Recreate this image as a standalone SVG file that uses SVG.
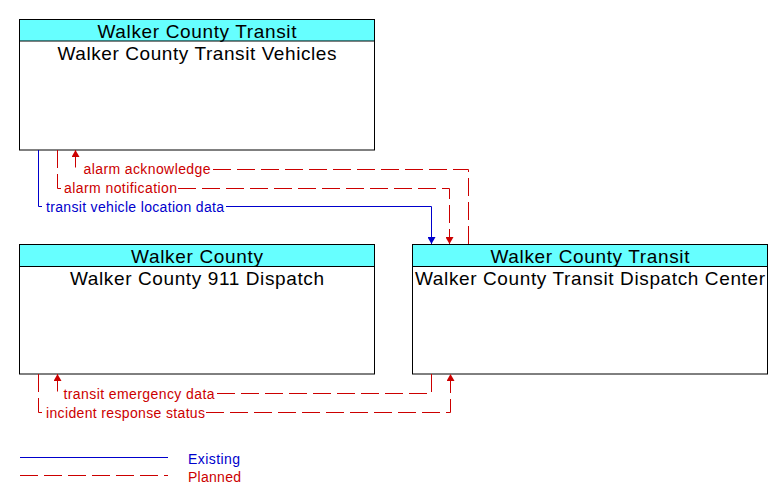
<svg xmlns="http://www.w3.org/2000/svg" width="783" height="504" viewBox="0 0 783 504">
<style>
.box{fill:#ffffff;stroke:#000000;stroke-width:1}
.hdr{fill:#66ffff;stroke:#000000;stroke-width:1}
.nt{font-family:"Liberation Sans",Arial,sans-serif;font-size:19px;fill:#000000;text-anchor:middle}
.lb{font-family:"Liberation Sans",Arial,sans-serif;font-size:14px}
.ex{fill:none;stroke:#0000cc;stroke-width:1}
.pl{fill:none;stroke:#cc0000;stroke-width:1;stroke-dasharray:18,6}
.tb{fill:#0000cc}
.tr{fill:#cc0000}
</style>
<defs>
<marker id="ab" markerUnits="userSpaceOnUse" markerWidth="8" markerHeight="8" refX="7" refY="4" orient="auto"><path d="M0,0 L7,4 L0,8 z" fill="#0000cc"/></marker>
<marker id="ar" markerUnits="userSpaceOnUse" markerWidth="8" markerHeight="8" refX="7" refY="4" orient="auto"><path d="M0,0 L7,4 L0,8 z" fill="#cc0000"/></marker>
</defs>
<rect width="783" height="504" fill="#ffffff"/>
<g id="node-vehicles">
<rect class="box" x="19.5" y="19.5" width="355" height="130.5"/>
<rect class="hdr" x="19.5" y="19.5" width="355" height="21.5"/>
<text class="nt" x="197" y="38" textLength="199">Walker County Transit</text>
<text class="nt" x="197" y="59.5" textLength="279">Walker County Transit Vehicles</text>
</g>
<g id="node-911">
<rect class="box" x="19.5" y="244.5" width="355" height="129.5"/>
<rect class="hdr" x="19.5" y="244.5" width="355" height="22"/>
<text class="nt" x="197" y="263" textLength="132">Walker County</text>
<text class="nt" x="197" y="284.5" textLength="254">Walker County 911 Dispatch</text>
</g>
<g id="node-dispatch">
<rect class="box" x="412.5" y="244.5" width="355" height="129.5"/>
<rect class="hdr" x="412.5" y="244.5" width="355" height="22"/>
<text class="nt" x="590" y="263" textLength="199">Walker County Transit</text>
<text class="nt" x="590" y="284.5" textLength="350">Walker County Transit Dispatch Center</text>
</g>
<g id="connectors">
<path class="ex" d="M38.5,150 V206.5 H42 M226,206.5 H431.5 V244" marker-end="url(#ab)"/>
<text class="lb tb" x="46" y="212" textLength="178">transit vehicle location data</text>
<path class="pl" d="M57.5,150 V188.5 H61 M178,188.5 H449.5 V244" marker-end="url(#ar)"/>
<text class="lb tr" x="64" y="193" textLength="113">alarm notification</text>
<path class="pl" d="M468.5,244 V169.5 H211 M75.5,167.5 V150" marker-end="url(#ar)"/>
<text class="lb tr" x="83.5" y="174" textLength="127">alarm acknowledge</text>
<path class="pl" d="M431.5,374 V393.5 H215 M57.5,391.5 V374" marker-end="url(#ar)"/>
<text class="lb tr" x="63.5" y="398.5" textLength="151">transit emergency data</text>
<path class="pl" d="M38.5,374 V412.5 H42 M206,412.5 H450.5 V374" marker-end="url(#ar)"/>
<text class="lb tr" x="46" y="417.5" textLength="159">incident response status</text>
</g>
<g id="legend">
<path class="ex" d="M20,457.5 H168"/>
<text class="lb tb" x="188" y="463.5" textLength="52">Existing</text>
<path class="pl" d="M20,475.5 H168"/>
<text class="lb tr" x="188" y="481.5" textLength="53">Planned</text>
</g>
</svg>
